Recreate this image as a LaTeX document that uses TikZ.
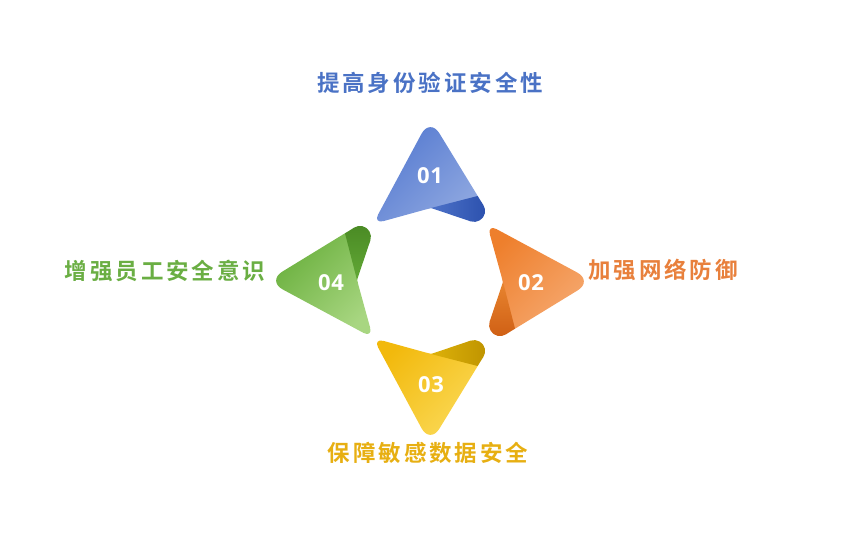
\documentclass[tikz,border=0pt]{standalone}
\usepackage{fontspec}
\newfontfamily\cjkfont{Noto Sans CJK SC Bold}[LetterSpace=13]
\newfontfamily\numfont{Open Sans Bold}[LetterSpace=4]
\usetikzlibrary{positioning}

\definecolor{blueA}{HTML}{5479D0}
\definecolor{blueB}{HTML}{8EA7E0}
\definecolor{blueC}{HTML}{4D72C8}
\definecolor{blueD}{HTML}{2C51AE}
\definecolor{blueT}{HTML}{4A72C5}
\definecolor{orangeA}{HTML}{EE7F2C}
\definecolor{orangeB}{HTML}{F6AA72}
\definecolor{orangeC}{HTML}{E8842F}
\definecolor{orangeD}{HTML}{CF5F14}
\definecolor{orangeT}{HTML}{E8803C}
\definecolor{yellowA}{HTML}{F2B90C}
\definecolor{yellowB}{HTML}{FBDA58}
\definecolor{yellowC}{HTML}{DDB10A}
\definecolor{yellowD}{HTML}{BF9400}
\definecolor{yellowT}{HTML}{E7AF12}
\definecolor{greenA}{HTML}{67AE3A}
\definecolor{greenB}{HTML}{A8D681}
\definecolor{greenC}{HTML}{62A836}
\definecolor{greenD}{HTML}{4A8A24}
\definecolor{greenT}{HTML}{6AAE43}

\begin{document}
\begin{tikzpicture}[x=1pt, y=1pt,
    title/.style={font=\cjkfont\fontsize{22.5}{26}\selectfont},
    num/.style={font=\numfont\fontsize{22}{24}\selectfont, text=white}]
    \useasboundingbox (0, 0) rectangle (856, 554);

    % folded triangles: rotation, mirror, light colours, fold colours, fold shading angle
    \foreach \rot/\ys/\cl/\cr/\fl/\fr/\fa in {0/1/blueA/blueB/blueC/blueD/90, -90/1/orangeA/orangeB/orangeC/orangeD/0, 0/-1/yellowA/yellowB/yellowC/yellowD/90, 90/1/greenA/greenB/greenC/greenD/180}{
        \begin{scope}[shift={(430, 273)}, rotate=\rot, yscale=\ys]
            \shade[top color=\cl, bottom color=\cr, shading angle=45](1, 73)[rounded corners=6pt]--(51.4, 79)[rounded corners=18pt]--(0, 163)[rounded corners=11pt]--(-57, 57)[rounded corners=6pt]--cycle;
            \shade[top color=\fl, bottom color=\fr, shading angle=\fa](1, 73)--(47.6, 85)--(53.4, 75.9) arc[start angle=32.1, end angle=-108.8, radius=11]--cycle;
        \end{scope}
    }

    \node[num] (n01) at (430, 378){01};
    \node[num] (n02) at (531, 271){02};
    \node[num] (n03) at (431, 169){03};
    \node[num] (n04) at (331, 271){04};

    \node[title, text=blueT] (t01) at (430, 471){提高身份验证安全性};
    \node[title, text=orangeT] (t02) at (663, 284){加强网络防御};
    \node[title, text=yellowT] (t03) at (428, 101){保障敏感数据安全};
    \node[title, text=greenT] (t04) at (165, 283){增强员工安全意识};
\end{tikzpicture}
\end{document}
